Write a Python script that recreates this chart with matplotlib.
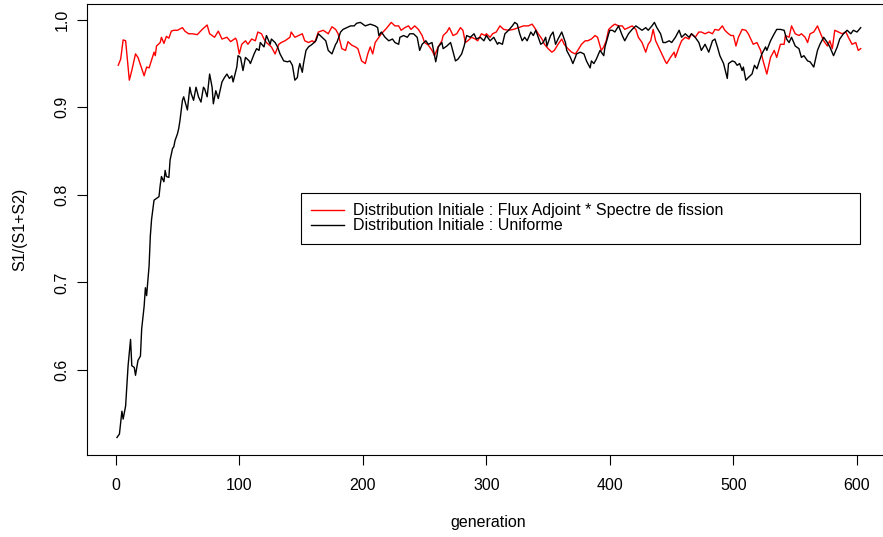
import matplotlib
matplotlib.use("Agg")
import matplotlib.pyplot as plt

# S1/(S1+S2) per generation
gen_adj = [2, 4, 6, 8, 11, 13, 16, 18, 23, 25, 27, 31, 32, 33, 36, 37, 39, 41, 43, 45,
           47, 50, 54, 56, 59, 62, 66, 70, 74, 76, 80, 83, 86, 90, 93, 97, 98, 100, 102, 105,
           107, 110, 113, 115, 118, 120, 122, 126, 129, 132, 134, 137, 141, 142, 145, 148, 151, 153, 156, 159,
           161, 164, 168, 172, 175, 178, 180, 183, 186, 188, 191, 194, 196, 199, 202, 204, 206, 208, 210, 213,
           215, 219, 223, 226, 229, 231, 234, 237, 239, 242, 245, 248, 250, 253, 256, 258, 261, 264, 265, 268,
           270, 273, 276, 279, 281, 283, 285, 288, 291, 293, 296, 299, 300, 303, 305, 308, 311, 314, 318, 322,
           326, 330, 334, 337, 339, 342, 345, 347, 350, 353, 355, 358, 361, 363, 366, 369, 372, 374, 377, 380,
           382, 385, 388, 390, 393, 395, 397, 399, 402, 404, 407, 410, 412, 415, 418, 421, 423, 426, 429, 431,
           433, 435, 437, 439, 442, 445, 446, 449, 452, 453, 456, 458, 461, 464, 466, 469, 472, 474, 477, 480,
           483, 485, 488, 491, 493, 496, 498, 500, 502, 504, 507, 510, 512, 514, 516, 519, 522, 524, 527, 530,
           533, 535, 538, 541, 542, 545, 547, 550, 553, 555, 558, 560, 562, 565, 568, 570, 573, 576, 578, 580,
           582, 585, 588, 591, 593, 596, 599, 601, 603]
frac_adj = [0.948, 0.955, 0.977, 0.976, 0.931, 0.942, 0.961, 0.957, 0.936, 0.946, 0.945, 0.963, 0.959, 0.970, 0.974, 0.980, 0.973, 0.981, 0.979, 0.987,
            0.988, 0.988, 0.991, 0.987, 0.984, 0.984, 0.983, 0.989, 0.994, 0.984, 0.980, 0.987, 0.978, 0.980, 0.975, 0.979, 0.976, 0.961, 0.972, 0.976,
            0.972, 0.978, 0.976, 0.986, 0.984, 0.978, 0.974, 0.969, 0.961, 0.972, 0.974, 0.976, 0.980, 0.986, 0.980, 0.982, 0.984, 0.976, 0.974, 0.976,
            0.974, 0.986, 0.988, 0.984, 0.992, 0.989, 0.984, 0.967, 0.965, 0.975, 0.971, 0.969, 0.967, 0.953, 0.950, 0.961, 0.969, 0.961, 0.974, 0.980,
            0.984, 0.990, 0.997, 0.993, 0.993, 0.988, 0.991, 0.993, 0.989, 0.993, 0.989, 0.982, 0.974, 0.971, 0.965, 0.959, 0.969, 0.976, 0.982, 0.986,
            0.991, 0.982, 0.984, 0.991, 0.988, 0.974, 0.976, 0.980, 0.978, 0.976, 0.984, 0.982, 0.984, 0.980, 0.984, 0.986, 0.993, 0.989, 0.988, 0.989,
            0.991, 0.993, 0.993, 0.995, 0.991, 0.984, 0.978, 0.972, 0.967, 0.963, 0.965, 0.972, 0.978, 0.972, 0.967, 0.963, 0.961, 0.965, 0.972, 0.976,
            0.976, 0.978, 0.982, 0.980, 0.965, 0.969, 0.976, 0.989, 0.993, 0.995, 0.993, 0.993, 0.989, 0.991, 0.993, 0.989, 0.980, 0.974, 0.963, 0.972,
            0.976, 0.989, 0.976, 0.970, 0.961, 0.952, 0.950, 0.957, 0.963, 0.957, 0.969, 0.976, 0.980, 0.978, 0.984, 0.980, 0.986, 0.986, 0.984, 0.986,
            0.984, 0.989, 0.988, 0.993, 0.988, 0.984, 0.982, 0.982, 0.970, 0.980, 0.989, 0.988, 0.984, 0.978, 0.972, 0.974, 0.965, 0.953, 0.938, 0.957,
            0.965, 0.957, 0.972, 0.972, 0.982, 0.980, 0.993, 0.984, 0.982, 0.984, 0.980, 0.974, 0.984, 0.986, 0.993, 0.986, 0.976, 0.970, 0.976, 0.967,
            0.988, 0.986, 0.984, 0.986, 0.980, 0.972, 0.974, 0.965, 0.967]

gen_uni = [1, 3, 5, 6, 8, 10, 12, 13, 15, 16, 18, 20, 21, 23, 24, 25, 27, 28, 29, 31,
           33, 35, 36, 37, 39, 40, 41, 43, 44, 46, 47, 48, 50, 51, 52, 54, 55, 58, 60, 61,
           63, 65, 67, 69, 71, 72, 74, 76, 78, 79, 81, 83, 86, 88, 90, 92, 94, 95, 98, 99,
           101, 103, 105, 108, 109, 112, 114, 116, 117, 120, 122, 125, 126, 129, 131, 133, 136, 139, 141, 143,
           145, 147, 148, 149, 151, 152, 154, 156, 159, 162, 164, 167, 170, 172, 175, 178, 179, 182, 184, 187,
           190, 193, 195, 198, 202, 206, 210, 212, 213, 215, 218, 221, 224, 226, 229, 230, 233, 236, 238, 241,
           244, 246, 248, 251, 253, 256, 259, 260, 261, 264, 265, 268, 271, 272, 275, 277, 280, 282, 284, 287,
           290, 292, 295, 298, 300, 303, 306, 309, 310, 313, 315, 318, 321, 323, 325, 327, 329, 331, 333, 336,
           338, 340, 342, 344, 346, 348, 349, 352, 354, 356, 358, 361, 364, 365, 368, 370, 372, 373, 376, 379,
           381, 384, 385, 387, 389, 392, 395, 396, 399, 400, 402, 404, 407, 410, 412, 415, 418, 421, 423, 426,
           429, 431, 434, 436, 438, 441, 443, 445, 448, 450, 453, 456, 458, 461, 464, 466, 469, 472, 474, 477,
           480, 483, 485, 487, 489, 492, 495, 496, 499, 501, 503, 505, 507, 508, 510, 512, 515, 517, 519, 521,
           523, 526, 527, 530, 533, 535, 538, 541, 543, 545, 547, 550, 553, 555, 557, 560, 562, 565, 568, 570,
           573, 576, 578, 581, 584, 586, 589, 592, 595, 597, 600, 603]
frac_uni = [0.523, 0.527, 0.553, 0.544, 0.559, 0.605, 0.635, 0.605, 0.603, 0.594, 0.611, 0.616, 0.647, 0.673, 0.694, 0.685, 0.719, 0.753, 0.772, 0.794,
            0.796, 0.798, 0.811, 0.821, 0.815, 0.828, 0.821, 0.820, 0.840, 0.853, 0.855, 0.862, 0.870, 0.876, 0.885, 0.908, 0.912, 0.897, 0.923, 0.916,
            0.908, 0.923, 0.912, 0.906, 0.923, 0.921, 0.912, 0.938, 0.923, 0.904, 0.919, 0.910, 0.929, 0.934, 0.938, 0.933, 0.936, 0.929, 0.946, 0.959,
            0.957, 0.942, 0.957, 0.953, 0.950, 0.961, 0.967, 0.965, 0.974, 0.969, 0.982, 0.972, 0.978, 0.974, 0.969, 0.961, 0.953, 0.952, 0.953, 0.948,
            0.931, 0.934, 0.944, 0.950, 0.940, 0.950, 0.965, 0.969, 0.972, 0.976, 0.984, 0.980, 0.976, 0.965, 0.961, 0.972, 0.974, 0.986, 0.989, 0.991,
            0.993, 0.993, 0.996, 0.997, 0.993, 0.995, 0.993, 0.991, 0.982, 0.986, 0.980, 0.976, 0.978, 0.974, 0.972, 0.980, 0.982, 0.980, 0.984, 0.984,
            0.980, 0.965, 0.972, 0.976, 0.972, 0.974, 0.952, 0.959, 0.969, 0.974, 0.967, 0.970, 0.974, 0.969, 0.953, 0.955, 0.961, 0.970, 0.982, 0.980,
            0.984, 0.978, 0.980, 0.976, 0.982, 0.976, 0.980, 0.972, 0.974, 0.972, 0.984, 0.988, 0.993, 0.997, 0.995, 0.984, 0.976, 0.980, 0.976, 0.986,
            0.982, 0.988, 0.980, 0.972, 0.974, 0.980, 0.970, 0.982, 0.986, 0.972, 0.978, 0.986, 0.974, 0.965, 0.957, 0.950, 0.957, 0.961, 0.963, 0.961,
            0.953, 0.945, 0.953, 0.950, 0.955, 0.965, 0.959, 0.969, 0.984, 0.988, 0.988, 0.986, 0.993, 0.982, 0.976, 0.984, 0.989, 0.993, 0.991, 0.988,
            0.991, 0.988, 0.993, 0.997, 0.991, 0.984, 0.974, 0.974, 0.976, 0.974, 0.980, 0.988, 0.980, 0.984, 0.980, 0.984, 0.980, 0.974, 0.965, 0.972,
            0.963, 0.976, 0.978, 0.969, 0.959, 0.950, 0.933, 0.950, 0.953, 0.952, 0.948, 0.950, 0.942, 0.946, 0.931, 0.934, 0.938, 0.948, 0.944, 0.953,
            0.961, 0.969, 0.965, 0.976, 0.984, 0.989, 0.989, 0.988, 0.978, 0.974, 0.980, 0.970, 0.967, 0.957, 0.959, 0.953, 0.952, 0.946, 0.965, 0.972,
            0.980, 0.974, 0.969, 0.959, 0.969, 0.978, 0.984, 0.988, 0.984, 0.988, 0.986, 0.991]

labels = ["Distribution Initiale : Flux Adjoint * Spectre de fission",
          "Distribution Initiale : Uniforme"]
x_ticks = [0, 100, 200, 300, 400, 500, 600]
y_ticks = [0.6, 0.7, 0.8, 0.9, 1.0]

plt.rcParams["font.family"] = ["Liberation Sans", "DejaVu Sans"]
plt.rcParams["font.size"] = 11.5

W, H = 883, 537
fig = plt.figure(figsize=(W / 100, H / 100), dpi=100)
# R-style plot region; the right edge of the box runs past the image edge
ax = fig.add_axes([86.7 / W, (H - 455) / H, (890 - 86.7) / W, (455 - 4) / H])

ax.plot(gen_adj, frac_adj, color="#ff0000", lw=1.0, label=labels[0])
ax.plot(gen_uni, frac_uni, color="black", lw=1.0, label=labels[1])

ax.set_xlim(-23.5, 626.7)
ax.set_ylim(0.503, 1.018)
ax.set_xticks(x_ticks)
ax.set_xticklabels([str(t) for t in x_ticks])
ax.set_yticks(y_ticks)
ax.set_yticklabels([f"{t:.1f}" for t in y_ticks], rotation=90, va="center")
ax.tick_params(direction="out", length=7.2, width=0.8, colors="black")
ax.tick_params(axis="x", pad=9)
ax.tick_params(axis="y", pad=5)
for s in ax.spines.values():
    s.set_linewidth(0.8)

fig.text(488 / W, 1 - 522 / H, "generation", ha="center", va="center")
fig.text(20 / W, 1 - 229.5 / H, "S1/(S1+S2)", ha="center", va="center", rotation=90)

leg = ax.legend(loc="upper left",
                bbox_to_anchor=(301 / W, 1 - 193 / H, (860 - 301) / W, 0.0),
                bbox_transform=fig.transFigure, mode="expand",
                frameon=True, fancybox=False, framealpha=1, edgecolor="black",
                handlelength=2.06, handletextpad=0.56, labelspacing=0.0,
                borderpad=0.65, borderaxespad=0.0)
leg.get_frame().set_linewidth(0.8)

fig.savefig("out.png", dpi=100)
